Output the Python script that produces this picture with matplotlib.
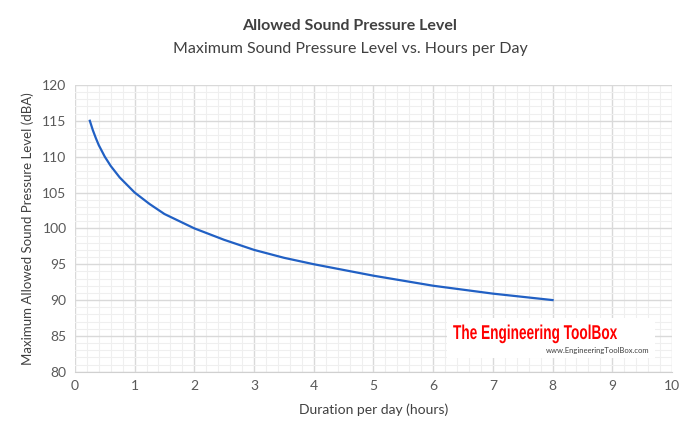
import matplotlib
matplotlib.use("Agg")
import matplotlib.pyplot as plt
from matplotlib.ticker import MultipleLocator
from matplotlib.textpath import TextPath
from matplotlib.patches import PathPatch
from matplotlib.font_manager import FontProperties
from matplotlib.transforms import Affine2D

plt.rcParams['font.family'] = ['Lato', 'DejaVu Sans']

# duration (hours) vs allowed level (dBA)
hours = [0.25, 0.3, 0.35, 0.4, 0.5, 0.6, 0.75, 1.0, 1.25, 1.5, 2.0, 2.5, 3.0, 3.5, 4.0, 5.0, 6.0, 7.0, 8.0]
level = [115, 113.7, 112.6, 111.6, 110, 108.7, 107.1, 105, 103.4, 102, 100, 98.4, 97, 95.9, 95, 93.4, 92, 90.9, 90]

xticks = list(range(0, 11))
yticks = list(range(80, 121, 5))

fig = plt.figure(figsize=(7, 4.4), dpi=100)
ax = fig.add_axes([0.107, 0.155, 0.853, 0.652])

ax.plot(hours, level, color='#2160c4', lw=1.6, zorder=3)

ax.set_xlim(0, 10)
ax.set_ylim(80, 120)
ax.set_xticks(xticks)
ax.set_yticks(yticks)
ax.xaxis.set_minor_locator(MultipleLocator(0.2))
ax.yaxis.set_minor_locator(MultipleLocator(1))
ax.grid(which='major', color='#d9d9d9', lw=1.0, zorder=0)
ax.grid(which='minor', color='#efefef', lw=0.8, zorder=0)
ax.set_axisbelow(True)
for s in ['top', 'right', 'left']:
    ax.spines[s].set_visible(False)
ax.spines['bottom'].set_color('#d0d0d0')
ax.tick_params(which='both', length=0, labelsize=10, colors='#595959', pad=6)

ax.set_xlabel('Duration per day (hours)', fontsize=10, color='#404040', labelpad=8)
ax.set_ylabel('Maximum Allowed Sound Pressure Level (dBA)', fontsize=9.5, color='#404040', labelpad=6)

fig.text(0.5, 0.942, 'Allowed Sound Pressure Level', ha='center', va='center',
         fontsize=11.5, fontweight='bold', color='#404040')
fig.text(0.5, 0.888, 'Maximum Sound Pressure Level vs. Hours per Day', ha='center', va='center',
         fontsize=11.5, color='#404040')

# watermark box + condensed red logo text
fig.patches.append(plt.Rectangle((447 / 700, 1 - 358 / 440), 208 / 700, 40 / 440,
                                 transform=fig.transFigure, facecolor='white', edgecolor='none', zorder=4))
logo = TextPath((0, 0), 'The Engineering ToolBox', size=20,
                prop=FontProperties(family='Liberation Sans', weight='bold'))
ext = logo.get_extents()
sx = 164 / ext.width
tr = Affine2D().scale(sx, 1.0).translate(453, 440 - 339)
fig.patches.append(PathPatch(logo, transform=tr, facecolor='#ff0000', edgecolor='none', zorder=5))
fig.text(650 / 700, 1 - 350 / 440, 'www.EngineeringToolBox.com', ha='right', va='center',
         fontsize=5.5, color='#404040', zorder=5)

fig.savefig('out.png', dpi=100)
